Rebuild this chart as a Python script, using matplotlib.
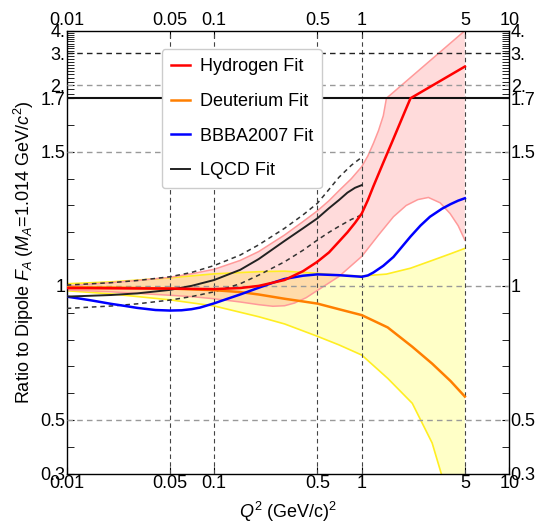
import numpy as np
import matplotlib
matplotlib.use("Agg")
import matplotlib.pyplot as plt

plt.rcParams['font.family'] = ['Liberation Sans', 'DejaVu Sans']
plt.rcParams['mathtext.fontset'] = 'custom'
plt.rcParams['mathtext.it'] = 'Liberation Sans:italic'
plt.rcParams['mathtext.rm'] = 'Liberation Sans'

# hydrogen fit and its band
h_x = [0.01, 0.02, 0.05, 0.1, 0.15, 0.2, 0.3, 0.4, 0.5, 0.6, 0.7, 0.8, 0.9, 1.0, 1.1, 1.2, 1.4, 1.6, 1.8, 2.0, 2.14, 5.0]
h_y = [0.992, 0.991, 0.99, 0.988, 0.992, 1.0, 1.022, 1.055, 1.09, 1.125, 1.165, 1.2, 1.235, 1.27, 1.32, 1.372, 1.46, 1.535, 1.602, 1.662, 1.7, 2.54]
h_up_x = [0.01, 0.02, 0.03, 0.05, 0.07, 0.1, 0.15, 0.2, 0.3, 0.4, 0.5, 0.6, 0.7, 0.85, 1.0, 1.1, 1.2, 1.3, 1.4, 1.47, 5.0]
h_up_y = [1.0, 1.012, 1.02, 1.032, 1.045, 1.062, 1.095, 1.128, 1.19, 1.24, 1.28, 1.318, 1.355, 1.4, 1.445, 1.485, 1.532, 1.58, 1.635, 1.7, 4.0]
h_lo_x = [0.01, 0.02, 0.03, 0.05, 0.07, 0.1, 0.15, 0.2, 0.25, 0.3, 0.35, 0.42, 0.5, 0.7, 1.0, 1.3, 1.64, 2.0, 2.4, 2.83, 3.4, 3.97, 4.5, 5.0]
h_lo_y = [0.985, 0.978, 0.972, 0.965, 0.96, 0.952, 0.94, 0.93, 0.924, 0.926, 0.936, 0.956, 0.983, 1.035, 1.11, 1.19, 1.258, 1.3, 1.322, 1.33, 1.31, 1.27, 1.225, 1.171]

# deuterium fit and its band
d_x = [0.01, 0.02, 0.03, 0.05, 0.1, 0.15, 0.2, 0.3, 0.4, 0.5, 0.7, 1.0, 1.5, 2.2, 3.0, 4.0, 5.0]
d_y = [0.995, 0.994, 0.992, 0.99, 0.984, 0.977, 0.968, 0.952, 0.942, 0.934, 0.913, 0.891, 0.845, 0.773, 0.71, 0.645, 0.587]
d_up_x = [0.01, 0.02, 0.05, 0.1, 0.2, 0.3, 0.5, 0.7, 1.0, 1.47, 2.14, 3.0, 4.0, 5.0]
d_up_y = [1.008, 1.015, 1.03, 1.045, 1.053, 1.055, 1.047, 1.04, 1.037, 1.044, 1.066, 1.095, 1.12, 1.14]
d_lo_x = [0.01, 0.02, 0.05, 0.1, 0.2, 0.3, 0.5, 0.7, 1.0, 1.5, 2.2, 3.0, 3.5, 4.0, 5.0]
d_lo_y = [0.982, 0.97, 0.948, 0.925, 0.885, 0.858, 0.812, 0.78, 0.742, 0.655, 0.562, 0.414, 0.29, 0.15, -0.1]

# BBBA2007
b_x = [0.01, 0.0125, 0.015, 0.02, 0.025, 0.03, 0.04, 0.05, 0.06, 0.07, 0.08, 0.1, 0.12, 0.15, 0.2, 0.25, 0.3,
       0.4, 0.5, 0.7, 1.0, 1.1, 1.2, 1.4, 1.64, 1.9, 2.14, 2.5, 2.9, 3.5, 4.0, 4.5, 5.0]
b_y = [0.96, 0.952, 0.945, 0.933, 0.925, 0.918, 0.91, 0.908, 0.909, 0.913, 0.919, 0.935, 0.95, 0.968, 0.993, 1.012, 1.026,
       1.038, 1.043, 1.04, 1.034, 1.039, 1.05, 1.075, 1.108, 1.15, 1.184, 1.225, 1.258, 1.288, 1.305, 1.318, 1.327]

# LQCD with upper / lower dashed curves
l_x = [0.01, 0.02, 0.03, 0.05, 0.07, 0.1, 0.15, 0.2, 0.3, 0.4, 0.5, 0.6, 0.7, 0.8, 0.9, 1.0]
l_y = [0.96, 0.966, 0.972, 0.985, 1.0, 1.022, 1.06, 1.1, 1.168, 1.215, 1.252, 1.29, 1.32, 1.348, 1.366, 1.376]
lu_x = [0.01, 0.02, 0.03, 0.05, 0.07, 0.1, 0.15, 0.2, 0.3, 0.4, 0.5, 0.6, 0.7, 0.85, 1.0]
lu_y = [1.003, 1.012, 1.02, 1.034, 1.05, 1.076, 1.115, 1.153, 1.215, 1.265, 1.308, 1.36, 1.405, 1.45, 1.48]
ll_x = [0.01, 0.02, 0.03, 0.05, 0.07, 0.1, 0.15, 0.2, 0.3, 0.4, 0.5, 0.6, 0.7, 0.85, 1.0]
ll_y = [0.916, 0.925, 0.933, 0.947, 0.96, 0.978, 1.008, 1.04, 1.09, 1.133, 1.171, 1.2, 1.222, 1.248, 1.265]

x_ticks = [0.01, 0.05, 0.1, 0.5, 1, 5, 10]
x_labels = ["0.01", "0.05", "0.1", "0.5", "1", "5", "10"]
y_ticks = [0.3, 0.5, 1, 1.5, 1.7, 2, 3, 4]
y_labels = ["0.3", "0.5", "1", "1.5", "1.7", "2.", "3.", "4."]

# linear up to 1.7, logarithmic above
K = 0.2948


def fwd(y):
    y = np.asarray(y, dtype=float)
    return np.where(y <= 1.7, y, 1.7 + K * np.log(np.maximum(y, 1.7) / 1.7))


def inv(t):
    t = np.asarray(t, dtype=float)
    return np.where(t <= 1.7, t, 1.7 * np.exp((np.maximum(t, 1.7) - 1.7) / K))


fig = plt.figure(figsize=(5.4, 5.28), dpi=100)
ax = fig.add_axes([0.1235, 0.1032, 0.8196, 0.8387])
ax.set_xscale('log')
ax.set_yscale('function', functions=(fwd, inv))
ax.set_xlim(0.01, 10)
ax.set_ylim(0.3, 4)

# bands
ax.fill(np.concatenate([d_up_x, d_lo_x[::-1]]), np.concatenate([d_up_y, d_lo_y[::-1]]),
        color='#ffff00', alpha=0.22, lw=0, zorder=1)
ax.plot(d_up_x, d_up_y, color='#ffee22', lw=1.2, zorder=2)
ax.plot(d_lo_x, d_lo_y, color='#ffee22', lw=1.2, zorder=2)
ax.fill(np.concatenate([h_up_x, h_lo_x[::-1]]), np.concatenate([h_up_y, h_lo_y[::-1]]),
        color='#ff0000', alpha=0.14, lw=0, zorder=1)
ax.plot(h_up_x, h_up_y, color='#ff9a9a', lw=1.1, zorder=2)
ax.plot(h_lo_x, h_lo_y, color='#ff9a9a', lw=1.1, zorder=2)

# grid lines
for xv in [0.05, 0.1, 0.5, 1, 5]:
    ax.axvline(xv, color='#444444', lw=0.8, ls=(0, (4, 3)), zorder=3)
for yv in [0.5, 1, 1.5, 2]:
    ax.axhline(yv, color='#999999', lw=1.0, ls=(0, (4, 3)), zorder=3)
ax.axhline(3, color='#222222', lw=1.0, ls=(0, (4, 3)), zorder=3)
ax.axhline(1.7, color='#111111', lw=1.5, zorder=3)

# curves
ax.plot(ll_x, ll_y, color='#333333', lw=1.1, ls=(0, (3, 2.5)), zorder=4)
ax.plot(lu_x, lu_y, color='#333333', lw=1.1, ls=(0, (3, 2.5)), zorder=4)
ax.plot(d_x, d_y, color='#ff7f00', lw=1.8, zorder=5, label='Deuterium Fit')
ax.plot(b_x, b_y, color='#0000ff', lw=1.8, zorder=5, label='BBBA2007 Fit')
ax.plot(l_x, l_y, color='#222222', lw=1.4, zorder=5, label='LQCD Fit')
ax.plot(h_x, h_y, color='#ff0000', lw=1.8, zorder=6, label='Hydrogen Fit')

ax.set_xticks(x_ticks)
ax.set_xticklabels(x_labels)
ax.xaxis.set_minor_locator(matplotlib.ticker.NullLocator())
ax.set_yticks(y_ticks)
ax.set_yticklabels(y_labels)
minor_y = [0.4, 0.6, 0.7, 0.8, 0.9, 1.1, 1.2, 1.3, 1.4, 1.6] + list(np.arange(1.8, 3.95, 0.1))
ax.set_yticks(minor_y, minor=True)
ax.tick_params(which='both', direction='in', top=True, right=True,
               labeltop=True, labelright=True, labelsize=13, pad=1)
ax.tick_params(which='major', length=5, width=0.8)
ax.tick_params(which='minor', length=5, width=0.6)
for s in ax.spines.values():
    s.set_linewidth(1.0)

ax.set_xlabel('$Q^2$ (GeV/c)$^2$', fontsize=13, labelpad=6)
ax.set_ylabel('Ratio to Dipole $F_A$ ($M_A$=1.014 GeV/$c^2$)', fontsize=13, labelpad=3)

h, lab = ax.get_legend_handles_labels()
order = [3, 0, 1, 2]
leg = ax.legend([h[i] for i in order], [lab[i] for i in order],
                loc='upper left', bbox_to_anchor=(0.2994, 0.9066),
                bbox_transform=fig.transFigure, borderaxespad=0, fontsize=13,
                handlelength=1.05, handletextpad=0.55, labelspacing=0.98, borderpad=0.5,
                fancybox=True, framealpha=1, edgecolor='#cccccc')
leg.set_zorder(10)

fig.savefig('out.png', dpi=100)
